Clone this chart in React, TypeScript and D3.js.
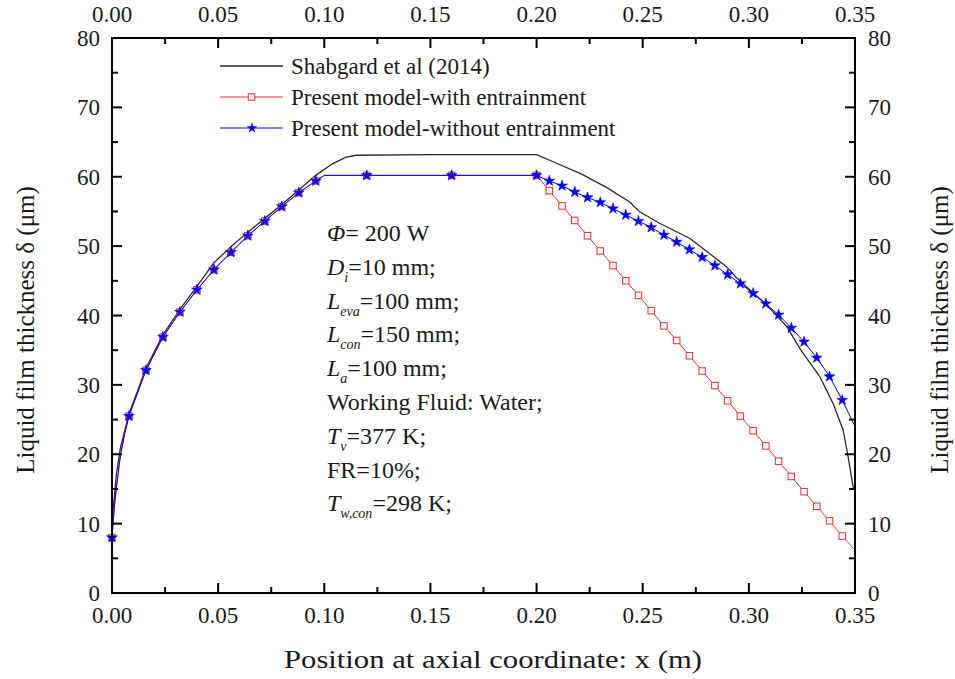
import React from "react";
import * as d3 from "d3";

// ---------- data ----------
type P = { x: number; y: number; m: boolean };

const shabgardX = [0, 0.002, 0.004, 0.008, 0.016, 0.024, 0.032, 0.04, 0.048, 0.056, 0.064, 0.072, 0.08, 0.088, 0.096, 0.104, 0.11, 0.115, 0.15, 0.2, 0.2076, 0.2217, 0.2327, 0.2437, 0.2484, 0.2579, 0.2723, 0.2833, 0.2896, 0.2943, 0.3084, 0.3179, 0.3245, 0.3334, 0.3397, 0.3444, 0.3468, 0.3491, 0.35];
const shabgardY = [10, 17, 21, 25.8, 32.4, 37.2, 40.9, 44.2, 47.6, 49.9, 52.0, 54.0, 56.0, 58.1, 60.2, 61.9, 62.8, 63.1, 63.2, 63.2, 62.2, 60.3, 58.5, 56.4, 55.0, 53.3, 51.1, 48.5, 47.0, 45.4, 41.5, 38.4, 35.0, 31.2, 27.3, 23.5, 19.6, 15.3, 15.0];

// common rising part + plateau (both present-model series)
const riseX = [0, 0.001, 0.002, 0.004, 0.006, 0.008, 0.016, 0.024, 0.032, 0.04, 0.048, 0.056, 0.064, 0.072, 0.08, 0.088, 0.096, 0.1, 0.12, 0.16];
const riseY = [8.0, 12.0, 15.0, 19.9, 23.0, 25.5, 32.1, 36.9, 40.5, 43.7, 46.6, 49.1, 51.5, 53.6, 55.7, 57.7, 59.4, 60.2, 60.2, 60.2];
const riseMarked = [true, false, false, false, false, true, true, true, true, true, true, true, true, true, true, true, true, false, true, true];

// condenser section, x = 0.200, 0.206, ..., 0.344 (markers), then end at 0.35
const condX = [0.2, 0.206, 0.212, 0.218, 0.224, 0.23, 0.236, 0.242, 0.248, 0.254, 0.26, 0.266, 0.272, 0.278, 0.284, 0.29, 0.296, 0.302, 0.308, 0.314, 0.32, 0.326, 0.332, 0.338, 0.344, 0.35];
const withEntrY = [60.2, 58.0, 55.8, 53.7, 51.5, 49.3, 47.2, 45.0, 42.9, 40.7, 38.5, 36.4, 34.2, 32.0, 29.9, 27.7, 25.5, 23.4, 21.2, 19.0, 16.8, 14.6, 12.5, 10.4, 8.2, 6.2];
const withoutEntrY = [60.2, 59.4, 58.7, 57.8, 57.0, 56.3, 55.4, 54.5, 53.6, 52.7, 51.6, 50.6, 49.5, 48.4, 47.2, 45.9, 44.6, 43.2, 41.7, 40.1, 38.2, 36.2, 33.9, 31.2, 27.8, 24.0];

const xTicks = [0, 0.05, 0.1, 0.15, 0.2, 0.25, 0.3, 0.35];
const yTicks = [0, 10, 20, 30, 40, 50, 60, 70, 80];

const legendLabels = ["Shabgard et al (2014)", "Present model-with entrainment", "Present model-without entrainment"];

function build(ys: number[]): P[] {
  const a: P[] = riseX.map((x, i) => ({ x, y: riseY[i], m: riseMarked[i] }));
  condX.forEach((x, i) => a.push({ x, y: ys[i], m: i < condX.length - 1 }));
  return a;
}

const shabgard: P[] = shabgardX.map((x, i) => ({ x, y: shabgardY[i], m: false }));
const withEntr = build(withEntrY);
const withoutEntr = build(withoutEntrY);

// ---------- layout ----------
const W = 955, H = 679;
const L = 112, R = 855, T = 38, B = 593;
const FONT = "'Liberation Serif', 'Times New Roman', serif";

export default function App() {
  const x = d3.scaleLinear().domain([0, 0.35]).range([L, R]);
  const y = d3.scaleLinear().domain([0, 80]).range([B, T]);
  const line = d3.line<P>().x(d => x(d.x)).y(d => y(d.y));
  const star = d3.symbol().type(d3.symbolStar).size(36)() as string;
  const sq = 6.5;

  const xMinor = d3.range(0.025, 0.35, 0.05);
  const yMinor = d3.range(5, 80, 10);

  const RED = "#ff2a2a";
  const BLUE = "#0000ff";
  const TXT = "#1a1a1a";

  const annY0 = 241, annDy = 33.8;
  const sub = (s: string) => (
    <tspan dy={7} fontSize={14} fontStyle="italic">{s}</tspan>
  );
  const ann: React.ReactNode[] = [
    <><tspan fontStyle="italic">Φ</tspan>= 200 W</>,
    <><tspan fontStyle="italic">D</tspan>{sub("i")}<tspan dy={-7}>=10 mm;</tspan></>,
    <><tspan fontStyle="italic">L</tspan>{sub("eva")}<tspan dy={-7}>=100 mm;</tspan></>,
    <><tspan fontStyle="italic">L</tspan>{sub("con")}<tspan dy={-7}>=150 mm;</tspan></>,
    <><tspan fontStyle="italic">L</tspan>{sub("a")}<tspan dy={-7}>=100 mm;</tspan></>,
    <>Working Fluid: Water;</>,
    <><tspan fontStyle="italic">T</tspan>{sub("v")}<tspan dy={-7}>=377 K;</tspan></>,
    <>FR=10%;</>,
    <><tspan fontStyle="italic">T</tspan>{sub("w,con")}<tspan dy={-7}>=298 K;</tspan></>,
  ];

  return (
    <svg width={W} height={H} style={{ position: "absolute", left: 0, top: 0, background: "#fff" }} fontFamily={FONT}>
      <rect x={0} y={0} width={W} height={H} fill="#fff" />

      {/* series lines */}
      <path d={line(shabgard) || ""} fill="none" stroke="#2a2a2a" strokeWidth={1.3} />
      <path d={line(withEntr) || ""} fill="none" stroke={RED} strokeWidth={1} />
      {withEntr.filter(p => p.m).map((p, i) => (
        <rect key={"r" + i} x={x(p.x) - sq / 2} y={y(p.y) - sq / 2} width={sq} height={sq} fill="#fff" stroke={RED} strokeWidth={1} />
      ))}
      <path d={line(withoutEntr) || ""} fill="none" stroke={BLUE} strokeWidth={1} />
      {withoutEntr.filter(p => p.m).map((p, i) => (
        <path key={"b" + i} d={star} transform={`translate(${x(p.x)},${y(p.y)})`} fill={BLUE} stroke={BLUE} strokeWidth={0.6} />
      ))}

      {/* frame */}
      <rect x={L} y={T} width={R - L} height={B - T} fill="none" stroke="#000" strokeWidth={2} />

      {/* x ticks */}
      {xTicks.map((t, i) => (
        <g key={"xt" + i}>
          <line x1={x(t)} x2={x(t)} y1={B} y2={B - 10} stroke="#000" strokeWidth={2} />
          <line x1={x(t)} x2={x(t)} y1={T} y2={T + 10} stroke="#000" strokeWidth={2} />
          <text x={x(t)} y={623} fontSize={23} textAnchor="middle" fill={TXT}>{t.toFixed(2)}</text>
          <text x={x(t)} y={22} fontSize={23} textAnchor="middle" fill={TXT}>{t.toFixed(2)}</text>
        </g>
      ))}
      {xMinor.map((t, i) => (
        <g key={"xm" + i}>
          <line x1={x(t)} x2={x(t)} y1={B} y2={B - 6} stroke="#000" strokeWidth={2} />
          <line x1={x(t)} x2={x(t)} y1={T} y2={T + 6} stroke="#000" strokeWidth={2} />
        </g>
      ))}

      {/* y ticks */}
      {yTicks.map((t, i) => (
        <g key={"yt" + i}>
          <line x1={L} x2={L + 10} y1={y(t)} y2={y(t)} stroke="#000" strokeWidth={2} />
          <line x1={R} x2={R - 10} y1={y(t)} y2={y(t)} stroke="#000" strokeWidth={2} />
          <text x={100} y={y(t) + 8} fontSize={23} textAnchor="end" fill={TXT}>{t}</text>
          <text x={868} y={y(t) + 8} fontSize={23} textAnchor="start" fill={TXT}>{t}</text>
        </g>
      ))}
      {yMinor.map((t, i) => (
        <g key={"ym" + i}>
          <line x1={L} x2={L + 6} y1={y(t)} y2={y(t)} stroke="#000" strokeWidth={2} />
          <line x1={R} x2={R - 6} y1={y(t)} y2={y(t)} stroke="#000" strokeWidth={2} />
        </g>
      ))}

      {/* axis titles */}
      <text x={284} y={668} fontSize={26} textLength={418} lengthAdjust="spacingAndGlyphs" fill={TXT}>Position at axial coordinate: x (m)</text>
      <text transform={`translate(34,330) rotate(-90)`} fontSize={25} textAnchor="middle" fill={TXT}>Liquid film thickness δ (μm)</text>
      <text transform={`translate(948,330) rotate(-90)`} fontSize={25} textAnchor="middle" fill={TXT}>Liquid film thickness δ (μm)</text>

      {/* legend */}
      {legendLabels.map((lab, i) => {
        const ly = 66 + i * 31;
        return (
          <g key={"lg" + i}>
            <line x1={220} x2={283} y1={ly} y2={ly} stroke={i === 0 ? "#2a2a2a" : i === 1 ? RED : BLUE} strokeWidth={i === 0 ? 1.3 : 1} />
            {i === 1 && <rect x={251.5 - sq / 2} y={ly - sq / 2} width={sq} height={sq} fill="#fff" stroke={RED} />}
            {i === 2 && <path d={star} transform={`translate(252,${ly})`} fill={BLUE} />}
            <text x={291} y={ly + 8} fontSize={23} fill={TXT}>{lab}</text>
          </g>
        );
      })}

      {/* annotation */}
      {ann.map((c, i) => (
        <text key={"an" + i} x={327} y={annY0 + i * annDy} fontSize={24} fill={TXT}>{c}</text>
      ))}
    </svg>
  );
}
